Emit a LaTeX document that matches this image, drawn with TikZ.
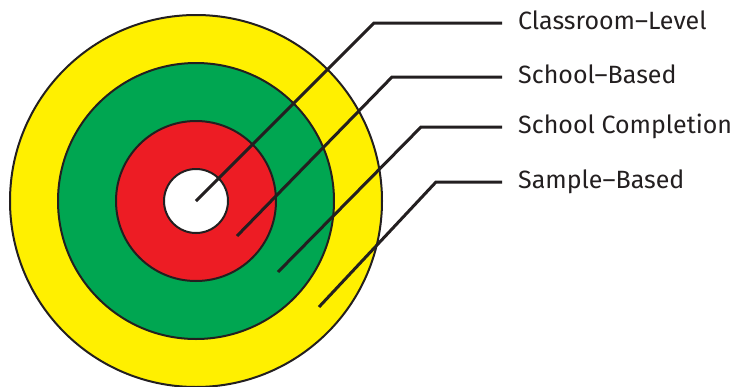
\documentclass[tikz,border=0pt]{standalone}
\usepackage{fontspec}
\setmainfont{Fira Sans}
\definecolor{ringyellow}{HTML}{FFF000}
\definecolor{ringgreen}{HTML}{00A651}
\definecolor{ringred}{HTML}{ED1C24}
\definecolor{inkline}{HTML}{231F20}
\tikzset{
  ring/.style={draw=inkline, line width=2pt},
  leader/.style={draw=inkline, line width=3pt},
  tag/.style={anchor=base west, inner sep=0pt, font=\fontsize{25}{30}\selectfont, text=inkline}
}
\begin{document}
\begin{tikzpicture}[x=1pt,y=-1pt]
    \useasboundingbox (0,0) rectangle (737,386);

    \filldraw[ring, fill=ringyellow] (196,201) circle (186pt);
    \filldraw[ring, fill=ringgreen] (196,201) circle (138pt);
    \filldraw[ring, fill=ringred] (196,201) circle (80pt);
    \filldraw[ring, fill=white] (196,201) circle (32pt);

    \node[tag] (classroom) at (518,29) {Classroom–Level};
    \node[tag] (school) at (518,83) {School–Based};
    \node[tag] (completion) at (518,133) {School Completion};
    \node[tag] (sample) at (518,188) {Sample–Based};

    \coordinate (s1) at (196,201);
    \coordinate (k1) at (374,23);
    \coordinate (s2) at (237,236);
    \coordinate (k2) at (392,77);
    \coordinate (s3) at (278,272);
    \coordinate (k3) at (421,127);
    \coordinate (s4) at (319,307);
    \coordinate (k4) at (436,182);

    \draw[leader] (s1) -- (k1) -- ([xshift=-16pt]classroom.west |- k1);
    \draw[leader] (s2) -- (k2) -- ([xshift=-16pt]school.west |- k2);
    \draw[leader] (s3) -- (k3) -- ([xshift=-16pt]completion.west |- k3);
    \draw[leader] (s4) -- (k4) -- ([xshift=-16pt]sample.west |- k4);
\end{tikzpicture}
\end{document}
